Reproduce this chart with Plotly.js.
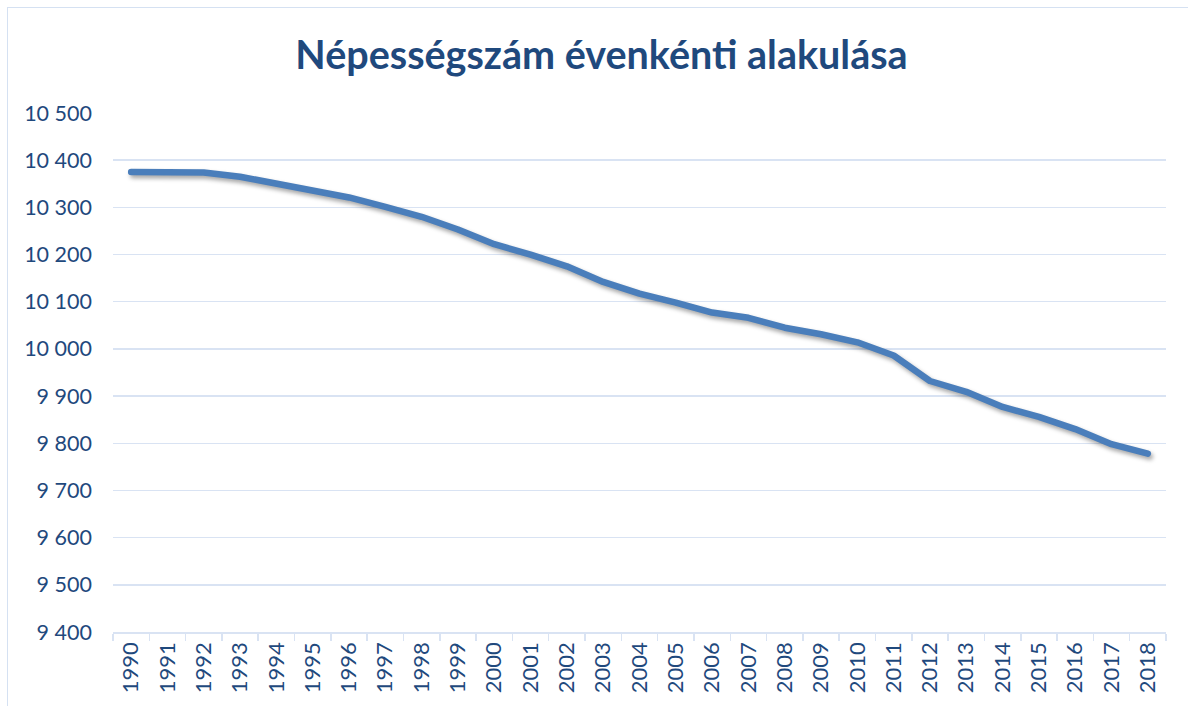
<!DOCTYPE html>
<html>
<head>
<meta charset="utf-8">
<script src="https://cdn.plot.ly/plotly-3.0.1.min.js"></script>
<style>
  html, body { margin: 0; padding: 0; background: #ffffff; }
  #wrap { position: relative; width: 1188px; height: 706px; overflow: hidden; }
  #chart { width: 1188px; height: 706px; }
  #frame { position: absolute; left: 7px; top: 7px; width: 1200px; height: 720px;
           border: 1.5px solid #d5e1f2; pointer-events: none; box-sizing: border-box; }
  .scatterlayer path.js-line {
    filter: drop-shadow(2px 3px 2px rgba(0,0,0,0.35));
    stroke-linecap: round !important;
    stroke-linejoin: round !important;
  }
</style>
</head>
<body>
<div id="wrap">
  <div id="chart"></div>
  <div id="frame"></div>
</div>
<script>
const years = ["1990","1991","1992","1993","1994","1995","1996","1997","1998","1999",
               "2000","2001","2002","2003","2004","2005","2006","2007","2008","2009",
               "2010","2011","2012","2013","2014","2015","2016","2017","2018"];
const population = [10375, 10373, 10374, 10365, 10350, 10337, 10321, 10301, 10280, 10253,
                    10222, 10200, 10175, 10142, 10117, 10098, 10077, 10066, 10045, 10031,
                    10014, 9986, 9932, 9909, 9877, 9856, 9830, 9798, 9778];
const titleText = "Népességszám évenkénti alakulása";

const textColor = "#1f497d";
const gridColor = "#d9e3f3";

const trace = {
  type: "scatter",
  mode: "lines",
  x: years,
  y: population,
  line: { color: "#4a7ebb", width: 6.5, shape: "linear" },
  hoverinfo: "x+y"
};

const layout = {
  width: 1188,
  height: 706,
  paper_bgcolor: "#ffffff",
  plot_bgcolor: "#ffffff",
  separators: ", ",
  showlegend: false,
  margin: { l: 113, r: 22, t: 113, b: 74 },
  font: { family: "Lato, 'Open Sans', sans-serif", color: textColor },
  title: {
    text: "<b>" + titleText + "</b>",
    font: { family: "Lato, 'Open Sans', sans-serif", size: 39.5, color: textColor },
    xref: "container", x: 601.5 / 1188, xanchor: "center",
    yref: "container", y: 1 - 55 / 706, yanchor: "middle"
  },
  xaxis: {
    type: "category",
    range: [-0.5, years.length - 0.5],
    tickson: "boundaries",
    ticks: "outside",
    ticklen: 7,
    tickwidth: 1.5,
    tickcolor: gridColor,
    showline: true,
    linecolor: gridColor,
    linewidth: 1.5,
    showgrid: false,
    zeroline: false,
    tickangle: -90,
    tickfont: { size: 22, color: textColor },
    fixedrange: true
  },
  yaxis: {
    range: [9400, 10500],
    dtick: 100,
    tick0: 9400,
    tickformat: ",d",
    separatethousands: true,
    showgrid: true,
    gridcolor: gridColor,
    gridwidth: 1.5,
    showline: false,
    zeroline: false,
    ticks: "",
    ticklabelstandoff: 20,
    tickfont: { size: 21.5, color: textColor },
    fixedrange: true
  }
};

Plotly.newPlot("chart", [trace], layout, { displayModeBar: false, staticPlot: true });
</script>
</body>
</html>
